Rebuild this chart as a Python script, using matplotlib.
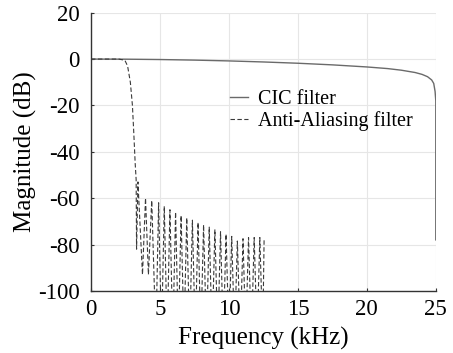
import numpy as np
import matplotlib.pyplot as plt

plt.rcParams['font.family'] = ['Liberation Serif', 'DejaVu Serif']
plt.rcParams['axes.unicode_minus'] = False

# CIC filter response (kHz, dB)
cic_f = [0, 2.5, 5, 7.5, 10, 12.5, 15, 17.5, 20, 21.5, 22.5, 23.5, 24, 24.4, 24.7, 24.85, 24.95, 25.0, 25.0]
cic_db = [0, -0.05, -0.2, -0.45, -0.8, -1.25, -1.8, -2.5, -3.4, -4.1, -4.8, -5.8, -6.6, -7.6, -9.0, -10.5, -14.0, -18.0, -78.0]

# Anti-aliasing filter: passband + transition
aa_pass_f = [0, 1.0, 2.0, 2.45, 2.65, 2.85, 3.0, 3.1, 3.2, 3.27]
aa_pass_db = [0, 0, 0, -0.5, -3, -10, -20, -32, -45, -52]

# stopband nulls and lobe peaks (kHz, dB)
null_f = [3.30, 3.73, 4.16, 4.70, 5.11, 5.52, 5.93, 6.33, 6.74, 7.15, 7.56, 7.96,
          8.37, 8.78, 9.19, 9.59, 10.00, 10.41, 10.82, 11.22, 11.63, 12.04, 12.45]
null_db = [-82, -93, -93, -120, -120, -120, -120, -120, -120, -120, -120, -120,
           -120, -120, -120, -120, -120, -120, -120, -120, -120, -120, -120]
peak_f = [3.40, 3.95, 4.40, 4.90, 5.31, 5.72, 6.13, 6.53, 6.94, 7.35, 7.76, 8.16,
          8.57, 8.98, 9.39, 9.79, 10.20, 10.61, 11.02, 11.42, 11.83, 12.24, 12.55]
peak_db = [-53, -60, -61, -62, -63.5, -65, -66, -67.5, -68.5, -69.5, -70.5, -71.5,
           -72.5, -73.5, -74.5, -75.5, -76.5, -78.5, -77.5, -77, -77, -77, -77.5]

aa_f = list(aa_pass_f)
aa_db = list(aa_pass_db)
for nf, nd, pf, pd in zip(null_f, null_db, peak_f, peak_db):
    aa_f += [nf, pf]
    aa_db += [nd, pd]

fig = plt.figure(figsize=(4.53, 3.53), dpi=100)
ax = fig.add_axes([0.201, 0.176, 0.761, 0.788])

ax.plot(cic_f, cic_db, color='#6a6a6a', lw=1.0, label='CIC filter')
ax.plot(aa_f, aa_db, color='#3a3a3a', lw=0.8, ls=(0, (4, 2.2)), label='Anti-Aliasing filter')

ax.set_xlim(0, 25)
ax.set_ylim(-100, 20)
ax.set_xticks([0, 5, 10, 15, 20, 25])
ax.set_yticks([20, 0, -20, -40, -60, -80, -100])
ax.grid(True, color='#e6e6e6', lw=0.8)
ax.set_axisbelow(True)

for s in ['top', 'right']:
    ax.spines[s].set_visible(False)
for s in ['left', 'bottom']:
    ax.spines[s].set_color('#333333')
    ax.spines[s].set_linewidth(1.0)

ax.tick_params(direction='in', length=2, labelsize=16.5, pad=6, color='#333333')
ax.tick_params(axis='y', pad=8)

ax.set_xlabel('Frequency (kHz)', fontsize=18, labelpad=5)
ax.set_ylabel('Magnitude (dB)', fontsize=18, labelpad=1)

ax.legend(loc='upper left', bbox_to_anchor=(0.38, 0.75), frameon=False, fontsize=14.5,
          handlelength=0.9, handletextpad=0.5, labelspacing=0.1, borderaxespad=0)

plt.savefig('out.png', dpi=100)
